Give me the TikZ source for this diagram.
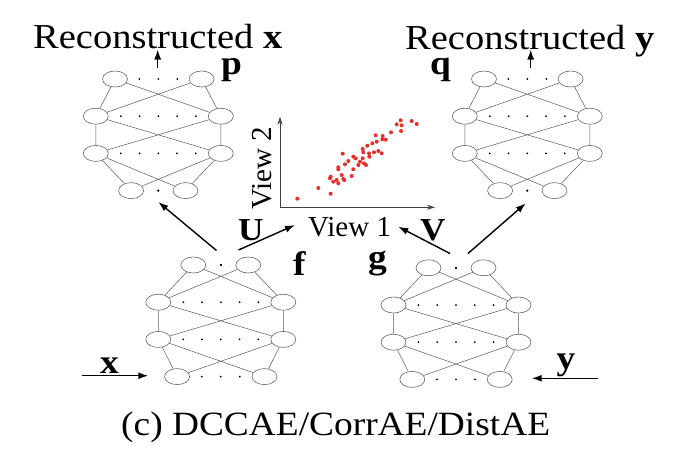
\documentclass[tikz,border=0pt]{standalone}
\usepackage{fontspec}
\setmainfont{Liberation Serif}[FakeStretch=1.1]
\newfontfamily\viewfont{Liberation Serif}
\usetikzlibrary{shapes.geometric,arrows.meta}
\definecolor{dotred}{RGB}{232,48,40}

\begin{document}
\begin{tikzpicture}[x=1pt, y=-1pt,
    unit/.style = {shape = ellipse,
                   draw = black!60,
                   line width = 0.6pt,
                   minimum width = 25pt,
                   minimum height = 16pt,
                   inner sep = 0pt},
    wire/.style = {draw = black!65, line width = 0.5pt},
    flow/.style = {line width = 1.4pt, -{Latex[length=10pt, width=7pt]}},
    axis/.style = {draw = black!75, line width = 0.7pt, -{Stealth[length=8pt, width=5pt]}},
    word/.style = {font = \fontsize{35}{40}\selectfont, inner sep = 0pt, anchor = base west},
    sym/.style  = {font = \fontsize{34}{40}\selectfont\bfseries, inner sep = 0pt, anchor = base west},
    view/.style = {font = \viewfont\fontsize{29}{32}\selectfont, inner sep = 0pt, anchor = base west}]
    \useasboundingbox (0,0) rectangle (682,456);

    % the four networks: name / centre x / top row y / half widths / dot spacing
    \foreach \n/\cx/\cy/\ta/\ba/\ts/\bs in {p/158.3/79/43.3/27.2/19/0,
                                             q/527.3/79/43.3/27.2/19/0,
                                             f/220.8/265/27.5/43.7/0/19,
                                             g/456/267.8/27.5/43.7/0/19}
    {
        \node[unit] (\n1l) at (\cx-\ta,\cy) {};
        \node[unit] (\n1r) at (\cx+\ta,\cy) {};
        \node[unit] (\n2l) at (\cx-62.5,\cy+37.2) {};
        \node[unit] (\n2r) at (\cx+62.5,\cy+37.2) {};
        \node[unit] (\n3l) at (\cx-62.5,\cy+74.4) {};
        \node[unit] (\n3r) at (\cx+62.5,\cy+74.4) {};
        \node[unit] (\n4l) at (\cx-\ba,\cy+111.6) {};
        \node[unit] (\n4r) at (\cx+\ba,\cy+111.6) {};
        \foreach \k/\j in {1/2,2/3,3/4}
            \draw[wire] (\n\k l) -- (\n\j l) (\n\k l) -- (\n\j r)
                        (\n\k r) -- (\n\j l) (\n\k r) -- (\n\j r);
        \foreach \d in {-1,0,1} {
            \fill (\cx+\d*\ts,\cy) circle (1pt);
            \fill (\cx+\d*\bs,\cy+111.6) circle (1pt);
        }
        \foreach \d in {-2,...,2} {
            \fill (\cx+\d*18.75,\cy+37.2) circle (1pt);
            \fill (\cx+\d*18.75,\cy+74.4) circle (1pt);
        }
    }

    % labels
    \node[word, text depth=0pt] (recx) at (33,48.3) {Reconstructed \textbf{x}};
    \node[word, text depth=0pt] (recy) at (405,49.8) {Reconstructed \textbf{y}};
    \node[sym, text height=16pt] (lp) at (221,74.5) {p};
    \node[sym, text height=16pt] (lq) at (430,74.5) {q};
    \node[sym] (lf) at (293,275) {f};
    \node[sym] (lg) at (368,268) {g};
    \node[sym, font=\fontsize{32}{36}\selectfont\bfseries] (lu) at (238,240) {U};
    \node[sym, font=\fontsize{32}{36}\selectfont\bfseries] (lv) at (420,240) {V};
    \node[sym] (lx) at (100,373.3) {x};
    \node[sym] (ly) at (556.5,369) {y};
    \node[view] (v1) at (308,236.7) {View 1};
    \node[view, rotate=90] (v2) at (271.7,210) {View 2};
    \node[word, font=\fontsize{34}{40}\selectfont] (cap) at (121,435) {(c) DCCAE/CorrAE/DistAE};

    % connector ends
    \coordinate (pa) at (157.7,68);   \coordinate (pb) at (157.7,49.5);
    \coordinate (qa) at (530.7,68);   \coordinate (qb) at (530.7,49.5);
    \coordinate (fl) at (216.5,250.5); \coordinate (fr) at (238.5,250);
    \coordinate (gl) at (450,253.5);   \coordinate (gr) at (468,253.5);
    \coordinate (pin) at (158.3,202); \coordinate (qin) at (525.7,203.3);
    \coordinate (uin) at (295,225);   \coordinate (vin) at (398.3,226.7);
    \coordinate (xa) at (81.7,375.7); \coordinate (xb) at (148.3,375.7);
    \coordinate (ya) at (598.3,378.3); \coordinate (yb) at (531.7,378.3);
    \coordinate (o) at (280,207.3);
    \coordinate (xend) at (435,207.3);
    \coordinate (yend) at (280,116.7);

    \draw[flow] (pa) -- (pb);
    \draw[flow] (qa) -- (qb);
    \draw[flow] (fl) -- (pin);
    \draw[flow] (fr) -- (uin);
    \draw[flow] (gl) -- (vin);
    \draw[flow] (gr) -- (qin);
    \draw[flow] (xa) -- (xb);
    \draw[flow] (ya) -- (yb);

    % the plot
    \draw[axis] (o) -- (xend);
    \draw[axis] (o) -- (yend);
    \foreach \px/\py in {297.3/198.7, 318.3/188, 330.7/193.7, 342.7/153.7, 338.3/167.3,
                         338.3/169.3, 330.7/176.7, 330/178.3, 333.3/181.7, 336.7/180,
                         338.3/183.3, 341.7/175, 343.3/179, 344.3/180, 345/164.3,
                         348.3/161, 351.7/176, 353.3/169.3, 353.3/156.7, 355.7/158.3,
                         358.3/165, 360/161.7, 362.7/158.3, 363.3/152.3, 362.7/149,
                         364/163.3, 366/165, 367.3/145.7, 369/153.3, 369.3/156.7,
                         372.3/143.3, 374/152.3, 375.7/135.3, 376.7/141.7, 378.3/151,
                         381.7/153.3, 382.7/136, 382.3/139.3, 385.7/139.7, 391/132.3,
                         396.7/124.3, 400.7/120.3, 401.7/125.3, 401/131, 411.7/121,
                         416.7/124}
        \fill[dotred] (\px,\py) circle (2pt);
\end{tikzpicture}
\end{document}
